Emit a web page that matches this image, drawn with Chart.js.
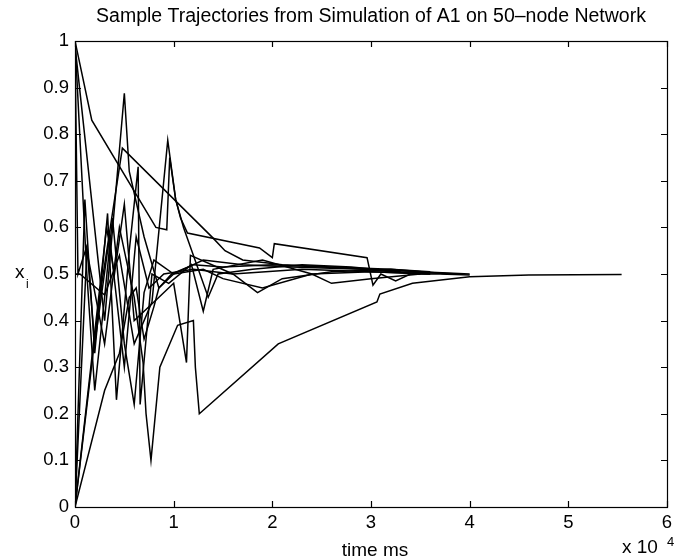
<!DOCTYPE html>
<html>
<head>
<meta charset="utf-8">
<script src="https://cdn.jsdelivr.net/npm/chart.js@4.4.1/dist/chart.umd.min.js"></script>
<style>
  html, body { margin: 0; padding: 0; background: #fff; }
  #wrap { width: 685px; height: 559px; }
</style>
</head>
<body>
<div id="wrap"><canvas id="chart" width="685" height="559"></canvas></div>
<script>
// time in units of 1e4 ms, value x_i
const xTicks = [0, 1, 2, 3, 4, 5, 6];
const yTicks = [0, 0.1, 0.2, 0.3, 0.4, 0.5, 0.6, 0.7, 0.8, 0.9, 1];

const traj1 = [[0,0],[0.12,0.55],[0.3,0.35],[0.45,0.6],[0.6,0.45],[0.69,0.31],[0.72,0.2],[0.77,0.1],[0.86,0.30],[1.04,0.39],[1.20,0.40],[1.22,0.30],[1.26,0.20],[2.06,0.35],[3.06,0.44],[3.09,0.457],[3.42,0.48],[4.0,0.494],[4.6,0.498],[5.54,0.499]];
const traj2 = [[0,1.0],[0.17,0.83],[0.82,0.60],[0.93,0.595],[0.96,0.75],[1.02,0.66],[1.07,0.62],[1.14,0.588],[1.87,0.556],[2.0,0.535],[2.02,0.565],[2.96,0.535],[3.02,0.476],[3.1,0.50],[3.25,0.485],[3.4,0.50],[3.7,0.50],[4.0,0.498]];
const traj3 = [[0,0.99],[0.3,0.4],[0.5,0.888],[0.55,0.72],[0.7,0.58],[0.85,0.47],[0.98,0.5],[1.2,0.52],[1.5,0.515],[2.0,0.52],[2.5,0.515],[3.0,0.51],[3.5,0.505],[4.0,0.5]];
const traj4 = [[0,0],[0.25,0.45],[0.48,0.77],[1.40,0.577],[1.52,0.55],[1.7,0.53],[2.1,0.52],[2.6,0.515],[3.2,0.51],[3.6,0.505]];
const traj5 = [[0,0.5],[0.05,0.5],[0.30,0.455],[0.45,0.54],[0.6,0.35],[0.78,0.44],[0.94,0.787],[1.02,0.66],[1.1,0.6],[1.35,0.45],[1.45,0.5],[1.8,0.51],[2.3,0.52],[2.8,0.515],[3.3,0.505],[3.9,0.5]];
const traj6 = [[0,0],[0.1,0.66],[0.2,0.33],[0.33,0.63],[0.42,0.23],[0.55,0.55],[0.64,0.73],[0.66,0.22],[0.78,0.5],[0.95,0.48],[1.18,0.52],[1.3,0.42],[1.4,0.51],[1.9,0.53],[2.4,0.5],[2.6,0.48],[3.0,0.49],[3.5,0.5]];
const traj7 = [[0,1.0],[0.12,0.5],[0.2,0.25],[0.3,0.45],[0.38,0.62],[0.5,0.35],[0.6,0.22],[0.7,0.46],[0.8,0.53],[1.0,0.5],[1.3,0.53],[1.7,0.52],[2.2,0.515],[2.9,0.51],[3.5,0.5]];
const traj8 = [[0,0],[0.32,0.6],[0.4,0.5],[0.5,0.65],[0.6,0.4],[0.8,0.44],[1.0,0.48],[1.13,0.31],[1.17,0.54],[1.6,0.5],[1.85,0.46],[2.1,0.49],[2.6,0.505],[3.2,0.51],[3.8,0.5]];
const traj9 = [[0,0.99],[0.03,0.5],[0.12,0.56],[0.2,0.35],[0.35,0.58],[0.5,0.3],[0.62,0.58],[0.75,0.47],[0.9,0.5],[1.2,0.51],[1.6,0.5],[2.3,0.51],[3.0,0.505],[3.6,0.5]];
const traj10 = [[0,0],[0.3,0.25],[0.45,0.33],[0.55,0.45],[0.62,0.47],[0.7,0.36],[0.8,0.43],[0.85,0.47],[1.0,0.5],[1.3,0.51],[1.5,0.49],[1.9,0.47],[2.4,0.5],[3.0,0.505],[3.6,0.5]];

const trajectories = [traj1, traj2, traj3, traj4, traj5, traj6, traj7, traj8, traj9, traj10];

const FONT = '"Liberation Sans", Arial, Helvetica, sans-serif';

// MATLAB style box with inward ticks, labels, title
const matlabAxes = {
    id: 'matlabAxes',
    afterDraw(chart) {
        const ctx = chart.ctx;
        const a = chart.chartArea;
        const xs = chart.scales.x, ys = chart.scales.y;
        ctx.save();
        ctx.strokeStyle = '#000';
        ctx.lineWidth = 1.2;
        ctx.strokeRect(a.left + 0.5, a.top + 0.5, a.right - a.left, a.bottom - a.top);
        ctx.beginPath();
        xTicks.forEach(v => {
            const px = Math.round(xs.getPixelForValue(v)) + 0.5;
            ctx.moveTo(px, a.bottom); ctx.lineTo(px, a.bottom - 6);
            ctx.moveTo(px, a.top); ctx.lineTo(px, a.top + 6);
        });
        yTicks.forEach(v => {
            const py = Math.round(ys.getPixelForValue(v)) + 0.5;
            ctx.moveTo(a.left, py); ctx.lineTo(a.left + 6, py);
            ctx.moveTo(a.right, py); ctx.lineTo(a.right - 6, py);
        });
        ctx.stroke();

        ctx.fillStyle = '#000';
        ctx.textBaseline = 'alphabetic';
        ctx.font = '19.5px ' + FONT;
        ctx.textAlign = 'center';
        ctx.fillText('Sample Trajectories from Simulation of A1 on 50\u2013node Network', (a.left + a.right) / 2, 22);
        ctx.font = '19px ' + FONT;
        ctx.fillText('time ms', (a.left + a.right) / 2 + 4, 556);

        // x_i
        ctx.textAlign = 'left';
        ctx.fillText('x', 15, 278);
        ctx.font = '12px ' + FONT;
        ctx.fillText('i', 26, 288);

        // x 10^4
        ctx.font = '19px ' + FONT;
        ctx.fillText('x 10', 622, 553);
        ctx.font = '13px ' + FONT;
        ctx.fillText('4', 667, 546);
        ctx.restore();
    }
};

new Chart(document.getElementById('chart'), {
    type: 'scatter',
    data: {
        datasets: trajectories.map((t, i) => ({
            label: 'traj' + (i + 1),
            data: t.map(p => ({ x: p[0], y: p[1] })),
            showLine: true,
            borderColor: '#000',
            borderWidth: 1.5,
            pointRadius: 0,
            tension: 0,
            fill: false
        }))
    },
    options: {
        responsive: false,
        animation: false,
        layout: { padding: { top: 41, right: 18, left: 0, bottom: 0 } },
        plugins: {
            legend: { display: false },
            tooltip: { enabled: false },
            title: { display: false }
        },
        scales: {
            x: {
                type: 'linear',
                min: 0, max: 6,
                afterFit: s => { s.height = 52; },
                afterBuildTicks: s => { s.ticks = xTicks.map(v => ({ value: v })); },
                grid: { display: false, drawTicks: false },
                border: { display: false },
                ticks: {
                    color: '#000',
                    padding: 5,
                    maxRotation: 0,
                    font: { family: FONT, size: 18.5 },
                    callback: v => String(v)
                }
            },
            y: {
                min: 0, max: 1,
                afterFit: s => { s.width = 75; },
                afterBuildTicks: s => { s.ticks = yTicks.map(v => ({ value: v })); },
                grid: { display: false, drawTicks: false },
                border: { display: false },
                ticks: {
                    color: '#000',
                    padding: 6,
                    font: { family: FONT, size: 18.5 },
                    callback: v => String(Math.round(v * 10) / 10)
                }
            }
        }
    },
    plugins: [matlabAxes]
});
</script>
</body>
</html>
